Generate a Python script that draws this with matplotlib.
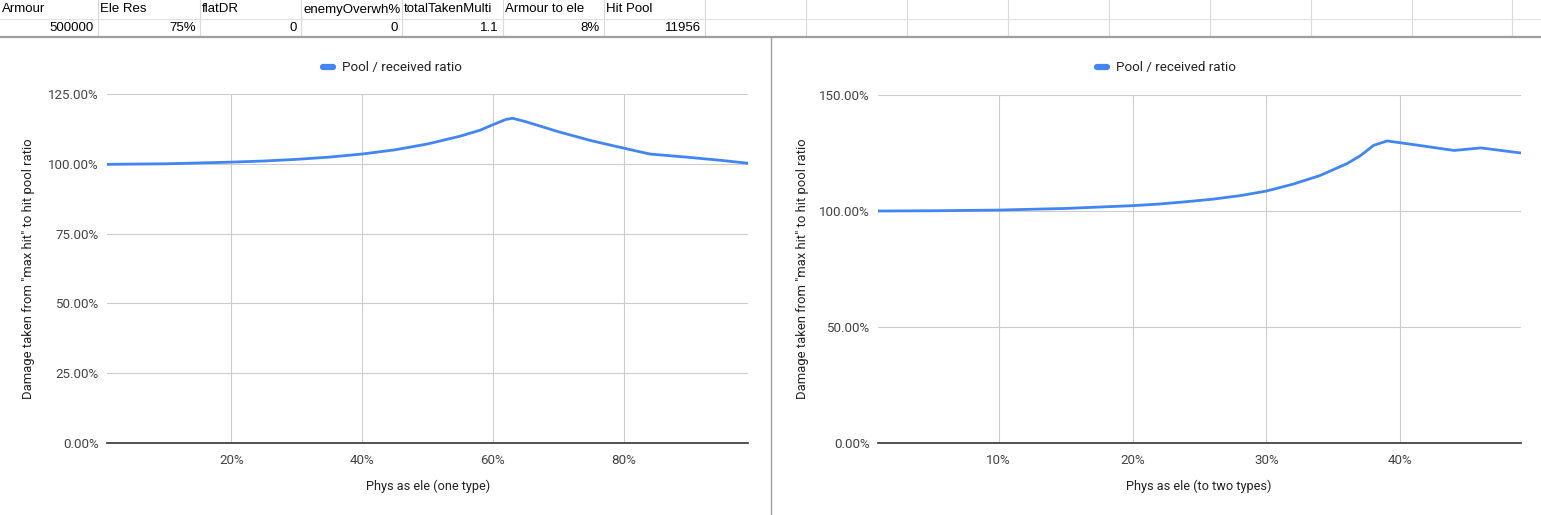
import matplotlib
matplotlib.use('Agg')
import matplotlib.pyplot as plt
from matplotlib.lines import Line2D
from matplotlib.ticker import FuncFormatter

# spreadsheet cells above the charts
header_labels = ['Armour', 'Ele Res', 'flatDR', 'enemyOverwh%', 'totalTakenMulti', 'Armour to ele', 'Hit Pool']
header_values = ['500000', '75%', '0', '0', '1.1', '8%', '11956']

# chart 1: phys as ele (one type)
one_x = [0.01, 0.05, 0.10, 0.15, 0.20, 0.25, 0.30, 0.35, 0.40, 0.45, 0.50, 0.55, 0.58, 0.60,
         0.62, 0.63, 0.65, 0.70, 0.75, 0.80, 0.84, 0.85, 0.90, 0.95, 0.99]
one_y = [0.998, 0.999, 1.000, 1.003, 1.006, 1.010, 1.016, 1.024, 1.035, 1.050, 1.071, 1.099, 1.120, 1.140,
         1.159, 1.163, 1.151, 1.115, 1.083, 1.056, 1.035, 1.033, 1.023, 1.012, 1.002]

# chart 2: phys as ele (to two types)
two_x = [0.01, 0.05, 0.10, 0.15, 0.20, 0.22, 0.24, 0.26, 0.28, 0.30, 0.32, 0.34, 0.36, 0.37,
         0.38, 0.39, 0.41, 0.44, 0.46, 0.49]
two_y = [1.000, 1.001, 1.004, 1.011, 1.023, 1.030, 1.040, 1.051, 1.066, 1.086, 1.116, 1.153, 1.204, 1.238,
         1.283, 1.302, 1.286, 1.261, 1.272, 1.250]

W, H = 1541, 515
fig = plt.figure(figsize=(W / 100, H / 100), dpi=100)
plt.rcParams['font.family'] = ['Roboto', 'DejaVu Sans']

def fx(px):
    return px / W

def fy(py):
    return 1 - py / H

# sheet grid
col_edges = [98, 200, 301, 402, 503, 604, 705, 806, 907, 1008, 1109, 1210, 1311, 1412, 1512]
for cx in col_edges:
    fig.add_artist(Line2D([fx(cx), fx(cx)], [fy(0), fy(36)], color='#dadada', lw=0.8))
fig.add_artist(Line2D([0, 1], [fy(19), fy(19)], color='#e2e2e2', lw=0.8))
fig.add_artist(Line2D([0, 1], [fy(37), fy(37)], color='#9e9e9e', lw=1.6))
fig.add_artist(Line2D([fx(771), fx(771)], [fy(38), 0], color='#9e9e9e', lw=1.0))

lefts = [0] + col_edges[:6]
rights = col_edges[:7]
for i in range(7):
    fig.text(fx(lefts[i] + 2), fy(9.5), header_labels[i], family='Liberation Sans', fontsize=9.5,
             ha='left', va='center', color='#000000')
    fig.text(fx(rights[i] - 4), fy(28), header_values[i], family='Liberation Sans', fontsize=9.5,
             ha='right', va='center', color='#000000')

line_col = '#4285f4'
ylab = 'Damage taken from "max hit" to hit pool ratio'

def setup(ax, xlim, ylim, xticks, yticks):
    ax.set_xlim(xlim)
    ax.set_ylim(ylim)
    ax.set_xticks(xticks)
    ax.set_yticks(yticks)
    ax.xaxis.set_major_formatter(FuncFormatter(lambda v, p: '%d%%' % round(v * 100)))
    ax.yaxis.set_major_formatter(FuncFormatter(lambda v, p: '%.2f%%' % (v * 100)))
    ax.grid(True, color='#cccccc', lw=0.8)
    ax.set_axisbelow(True)
    for s in ['top', 'right', 'left']:
        ax.spines[s].set_visible(False)
    ax.spines['bottom'].set_color('#333333')
    ax.spines['bottom'].set_linewidth(1.2)
    ax.tick_params(length=0, labelsize=9.6, labelcolor='#444444')
    ax.tick_params(axis='x', pad=8)
    ax.tick_params(axis='y', pad=6)

# left chart
ax1 = fig.add_axes([fx(107), fy(443), (748 - 107) / W, (443 - 94) / H])
ax1.plot(one_x, one_y, color=line_col, lw=2)
setup(ax1, (0.01, 0.99), (0, 1.25), [0.2, 0.4, 0.6, 0.8], [0, 0.25, 0.5, 0.75, 1.0, 1.25])

# right chart
ax2 = fig.add_axes([fx(878), fy(443), (1521 - 878) / W, (443 - 95) / H])
ax2.plot(two_x, two_y, color=line_col, lw=2)
setup(ax2, (0.01, 0.49), (0, 1.5), [0.1, 0.2, 0.3, 0.4], [0, 0.5, 1.0, 1.5])

# legends, axis titles
for lx, ly_x, xl_x, xlab in [(322, 29, 428, 'Phys as ele (one type)'),
                             (1096, 802, 1199, 'Phys as ele (to two types)')]:
    fig.add_artist(Line2D([fx(lx + 1), fx(lx + 11)], [fy(67), fy(67)], color=line_col, lw=4.5,
                          solid_capstyle='round'))
    fig.text(fx(lx + 20), fy(67), 'Pool / received ratio', fontsize=9.6, color='#222222',
             ha='left', va='center')
    fig.text(fx(ly_x), fy(269), ylab, fontsize=9.4, color='#222222', rotation=90,
             ha='center', va='center')
    fig.text(fx(xl_x), fy(486), xlab, fontsize=9.2, color='#222222', ha='center', va='center')

fig.savefig('out.png', dpi=100)
